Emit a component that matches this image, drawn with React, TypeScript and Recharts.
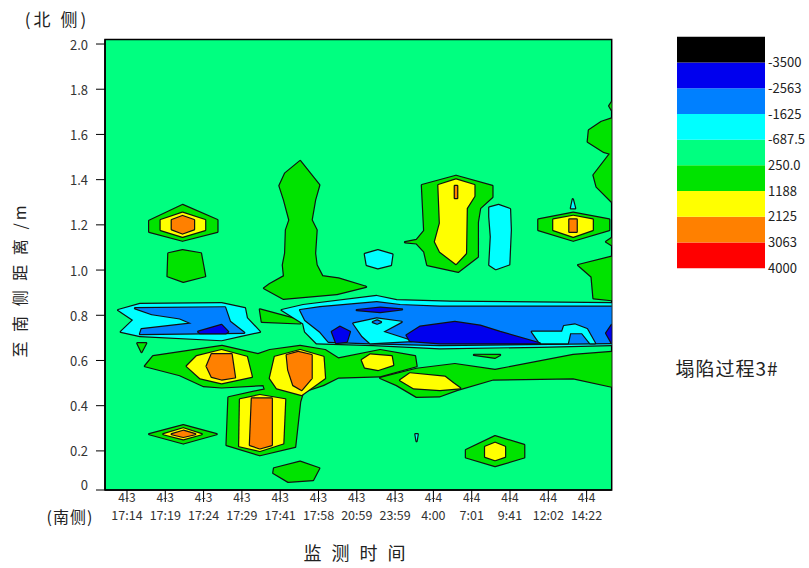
import { ScatterChart, Scatter, XAxis, YAxis, CartesianGrid, ReferenceArea, BarChart, Bar } from 'recharts';

const FONT = '"Noto Sans CJK SC", "Noto Sans", sans-serif';

// colour scale (low -> high)
const BLACK = '#000000';
const BLUE = '#0000EE';
const AZURE = '#0080FF';
const CYAN = '#00FFFF';
const MINT = '#00FF80';
const GREEN = '#00E300';
const YELLOW = '#FFFF00';
const ORANGE = '#FF8000';
const RED = '#FF0000';

// x axis: monitoring times (index positions)
const timeDates = ['4-3', '4-3', '4-3', '4-3', '4-3', '4-3', '4-3', '4-3', '4-4', '4-4', '4-4', '4-4', '4-4'];
const timeClock = ['17:14', '17:19', '17:24', '17:29', '17:41', '17:58', '20:59', '23:59', '4:00', '7:01', '9:41', '12:02', '14:22'];
const timeTicks = [0, 1, 2, 3, 4, 5, 6, 7, 8, 9, 10, 11, 12];

// y axis: distance to the south side (m)
const X_MIN = -0.574;
const X_MAX = 12.655;
const Y_MIN = 0.027;
const Y_MAX = 2.02;
const depthTicks = [Y_MIN, 0.2, 0.4, 0.6, 0.8, 1.0, 1.2, 1.4, 1.6, 1.8, 2.0];

// legend
const legendColors = [RED, ORANGE, YELLOW, GREEN, MINT, CYAN, AZURE, BLUE, BLACK];
const legendLabels = ['4000', '3063', '2125', '1188', '250.0', '-687.5', '-1625', '-2563', '-3500'];

// contour regions, [time index, distance m]
const greenA = [[0.58, 1.218], [1.45, 1.288], [2.36, 1.221], [2.36, 1.169], [1.45, 1.13], [0.58, 1.169]];
const yellowA = [[0.88, 1.221], [1.45, 1.254], [2.04, 1.221], [2.04, 1.177], [1.45, 1.147], [0.88, 1.177]];
const orangeA = [[1.17, 1.221], [1.45, 1.239], [1.75, 1.221], [1.75, 1.18], [1.45, 1.162], [1.17, 1.18]];
const greenB = [[1.08, 1.074], [1.45, 1.088], [1.93, 1.074], [2.04, 0.973], [1.47, 0.948], [1.06, 0.973]];
const greenPlume = [[4.52, 1.482], [5.02, 1.376], [4.91, 1.31], [4.82, 1.221], [4.95, 1.177], [4.91, 1.074], [4.95, 1.022], [5.1, 0.973], [5.52, 0.963], [6.24, 0.926], [5.48, 0.894], [4.08, 0.873], [3.58, 0.92], [3.73, 0.938], [4.1, 0.973], [4.07, 1.022], [4.13, 1.074], [4.15, 1.177], [4.24, 1.221], [4.1, 1.31], [3.98, 1.373], [4.13, 1.428]];
const greenE = [[7.7, 1.376], [8.59, 1.417], [9.54, 1.372], [9.54, 1.323], [9.22, 1.274], [9.16, 1.212], [9.16, 1.059], [8.65, 0.992], [7.84, 1.022], [7.76, 1.081], [7.56, 1.118], [7.26, 1.123], [7.56, 1.133], [7.76, 1.174]];
const yellowE = [[8.13, 1.376], [8.59, 1.401], [9.07, 1.376], [9.07, 1.327], [8.87, 1.273], [8.85, 1.074], [8.59, 1.027], [8.17, 1.081], [8.04, 1.125], [8.17, 1.207]];
const orangeE = [[8.56, 1.372], [8.62, 1.372], [8.62, 1.319], [8.56, 1.319]];
const cyanF = [[9.46, 1.277], [9.7, 1.288], [10.0, 1.27], [10.02, 1.177], [9.98, 1.025], [9.63, 1.004], [9.46, 1.022], [9.5, 1.147], [9.46, 1.236]];
const cyanD = [[6.21, 1.071], [6.55, 1.088], [6.93, 1.069], [6.89, 1.022], [6.55, 1.008], [6.26, 1.022]];
const greenG = [[10.74, 1.224], [11.65, 1.254], [12.59, 1.224], [12.59, 1.177], [11.65, 1.13], [10.74, 1.177]];
const yellowG = [[11.13, 1.224], [11.65, 1.24], [12.16, 1.224], [12.16, 1.177], [11.65, 1.147], [11.13, 1.177]];
const orangeG = [[11.55, 1.224], [11.74, 1.224], [11.74, 1.169], [11.55, 1.169]];
const cyanTick = [[11.59, 1.273], [11.64, 1.313], [11.7, 1.273]];
const greenEdgeTop = [[12.655, 1.671], [12.39, 1.656], [12.06, 1.619], [12.03, 1.568], [12.44, 1.523], [12.61, 1.515], [12.18, 1.42], [12.26, 1.369], [12.655, 1.302]];
const greenEdgeNick = [[12.655, 1.743], [12.59, 1.726], [12.655, 1.708]];
const greenEdgeMid = [[12.655, 1.142], [12.51, 1.125], [12.655, 1.11]];
const greenEdgeLow = [[12.655, 1.059], [11.78, 1.022], [12.13, 0.97], [12.18, 0.875], [12.655, 0.867]];
const greenWedge = [[3.47, 0.826], [4.56, 0.776], [4.52, 0.764], [3.52, 0.771]];
const greenSpeck = [[0.27, 0.676], [0.5, 0.676], [0.38, 0.638]];
const greenMid = [[0.47, 0.575], [0.68, 0.619], [2.48, 0.664], [3.42, 0.628], [3.73, 0.646], [4.52, 0.664], [5.17, 0.646], [5.52, 0.609], [6.61, 0.646], [7.52, 0.619], [7.56, 0.575], [6.61, 0.53], [5.52, 0.525], [5.12, 0.491], [4.6, 0.462], [4.52, 0.417], [4.39, 0.218], [3.47, 0.181], [2.6, 0.226], [2.65, 0.437], [3.6, 0.472], [3.56, 0.491], [2.47, 0.481], [1.99, 0.487], [1.38, 0.535]];
const greenLow = [[6.61, 0.523], [7.56, 0.563], [8.56, 0.584], [9.61, 0.558], [11.65, 0.624], [12.655, 0.638], [12.655, 0.484], [11.65, 0.521], [9.56, 0.516], [8.61, 0.469], [8.17, 0.442], [7.56, 0.439], [7.04, 0.491]];
const yellowLobe1 = [[1.56, 0.575], [1.82, 0.619], [2.47, 0.646], [3.13, 0.616], [3.26, 0.528], [2.47, 0.499], [1.91, 0.521]];
const orangeLobe1 = [[2.08, 0.575], [2.21, 0.628], [2.73, 0.628], [2.82, 0.525], [2.47, 0.516], [2.21, 0.528]];
const yellowLobe2 = [[3.73, 0.521], [3.86, 0.616], [4.52, 0.646], [5.13, 0.616], [5.17, 0.521], [4.56, 0.447], [3.91, 0.477]];
const orangeLobe2 = [[4.17, 0.624], [4.47, 0.638], [4.82, 0.624], [4.82, 0.521], [4.56, 0.469], [4.34, 0.491], [4.21, 0.558]];
const yellowNub = [[6.13, 0.602], [6.35, 0.627], [6.91, 0.619], [6.95, 0.58], [6.56, 0.558], [6.21, 0.569]];
const yellowColumn = [[2.95, 0.428], [3.47, 0.447], [4.13, 0.428], [4.08, 0.233], [3.47, 0.2], [2.93, 0.221]];
const orangeColumn = [[3.26, 0.432], [3.78, 0.432], [3.78, 0.226], [3.47, 0.211], [3.21, 0.226]];
const yellowLow = [[7.13, 0.513], [7.39, 0.543], [8.3, 0.528], [8.52, 0.499], [8.7, 0.477], [8.17, 0.469], [7.48, 0.477]];
const greenDiamond = [[0.58, 0.274], [1.47, 0.314], [2.34, 0.274], [1.47, 0.233]];
const yellowDiamond = [[0.95, 0.274], [1.47, 0.3], [1.95, 0.274], [1.47, 0.251]];
const orangeDiamond = [[1.17, 0.274], [1.47, 0.289], [1.78, 0.274], [1.47, 0.262]];
const greenFoot = [[3.84, 0.123], [4.52, 0.152], [5.02, 0.123], [4.86, 0.071], [4.21, 0.063], [3.82, 0.102]];
const greenHex7 = [[8.85, 0.204], [9.61, 0.265], [10.37, 0.226], [10.37, 0.171], [9.61, 0.133], [8.85, 0.171]];
const yellowHex7 = [[9.35, 0.218], [9.61, 0.236], [9.87, 0.218], [9.87, 0.174], [9.61, 0.159], [9.35, 0.174]];
const greenSliver = [[9.06, 0.625], [9.74, 0.624], [9.61, 0.612]];
const cyanSpeck = [[7.53, 0.274], [7.56, 0.243], [7.59, 0.274]];
const cyanWest = [[-0.23, 0.823], [0.34, 0.85], [2.47, 0.853], [3.08, 0.831], [3.13, 0.788], [3.47, 0.727], [2.95, 0.708], [2.47, 0.69], [0.34, 0.708], [-0.16, 0.727], [0.16, 0.779]];
const azureWest = [[0.21, 0.831], [2.56, 0.835], [2.69, 0.771], [3.06, 0.723], [0.34, 0.717], [0.38, 0.738], [1.69, 0.764], [1.38, 0.786], [0.65, 0.805]];
const blueWest = [[1.86, 0.727], [2.47, 0.757], [2.64, 0.727], [2.58, 0.72], [1.91, 0.721]];
const cyanEast = [[4.04, 0.823], [4.6, 0.845], [6.52, 0.885], [7.04, 0.867], [8.43, 0.86], [12.655, 0.853], [12.655, 0.668], [10.78, 0.661], [8.17, 0.654], [6.43, 0.668], [4.95, 0.676], [4.65, 0.727], [4.6, 0.764]];
const azureEast = [[4.52, 0.823], [5.04, 0.836], [6.52, 0.858], [7.13, 0.845], [8.17, 0.838], [12.655, 0.838], [12.655, 0.677], [8.17, 0.668], [6.35, 0.676], [5.26, 0.683], [5.04, 0.727], [4.65, 0.779]];
const cyanPocket = [[5.91, 0.764], [6.52, 0.786], [7.17, 0.771], [6.69, 0.727], [7.44, 0.686], [6.35, 0.676], [6.14, 0.708]];
const cyanNotch = [[10.57, 0.727], [11.36, 0.727], [11.41, 0.752], [11.7, 0.759], [12.01, 0.739], [12.22, 0.676], [12.09, 0.676], [11.88, 0.721], [11.57, 0.721], [11.51, 0.676], [10.78, 0.676]];
const azureDot = [[6.42, 0.77], [6.53, 0.777], [6.63, 0.77], [6.53, 0.763]];
const blueMid = [[5.35, 0.727], [5.56, 0.749], [5.82, 0.727], [5.74, 0.683], [5.46, 0.677]];
const blueLens = [[6.0, 0.823], [6.61, 0.833], [7.18, 0.826], [6.61, 0.814]];
const blueEast = [[7.3, 0.712], [7.65, 0.749], [8.56, 0.77], [9.22, 0.754], [9.74, 0.726], [10.78, 0.676], [8.17, 0.676], [7.39, 0.686]];
const blueEdge = [[12.655, 0.757], [12.51, 0.721], [12.655, 0.677]];

// drawing order: each group is stroked first, then filled so shared edges disappear
const contourGroups = [
  { fill: GREEN, shapes: [greenA, greenB, greenPlume, greenE, greenG, greenEdgeTop, greenEdgeNick, greenEdgeMid, greenEdgeLow, greenWedge, greenSpeck, greenMid, greenLow, greenDiamond, greenFoot, greenHex7, greenSliver] },
  { fill: YELLOW, shapes: [yellowA, yellowE, yellowG, yellowLobe1, yellowLobe2, yellowNub, yellowColumn, yellowLow, yellowDiamond, yellowHex7] },
  { fill: ORANGE, shapes: [orangeA, orangeE, orangeG, orangeLobe1, orangeLobe2, orangeColumn, orangeDiamond] },
  { fill: CYAN, shapes: [cyanD, cyanF, cyanTick, cyanWest, cyanEast, cyanSpeck] },
  { fill: AZURE, shapes: [azureWest, azureEast] },
  { fill: CYAN, shapes: [cyanPocket, cyanNotch] },
  { fill: AZURE, shapes: [azureDot] },
  { fill: BLUE, shapes: [blueWest, blueMid, blueLens, blueEast, blueEdge] },
];

const toPts = (poly: number[][]) => poly.map(([x, y]) => ({ x, y }));
const ptStr = (pts: any[]) => pts.map((q) => `${q.x},${q.y}`).join(' ');

const outline = (fill: string) => (p: any) => (
  <polygon points={ptStr(p.points)} fill={fill} stroke="#111" strokeWidth={2.4} strokeLinejoin="round" />
);
const body = (fill: string) => (p: any) => (
  <polygon points={ptStr(p.points)} fill={fill} stroke="none" />
);
const noDot = () => <g />;

const XTick = ({ x, y, payload }: any) => {
  const i = payload.value;
  return (
    <g>
      <text x={x} y={y - 6} textAnchor="middle" dominantBaseline="central" fontSize={12} fill="#333">{timeDates[i]}</text>
      <text x={x} y={y + 12} textAnchor="middle" dominantBaseline="central" fontSize={12.5} fill="#333">{timeClock[i]}</text>
    </g>
  );
};

const YTick = ({ x, y, payload }: any) => {
  const v = payload.value;
  const isZero = v === Y_MIN;
  return (
    <text x={x} y={isZero ? y - 6 : y} textAnchor="end" dominantBaseline="central" fontSize={13} fill="#333">
      {isZero ? '0' : v.toFixed(1)}
    </text>
  );
};

const legendRow = [Object.fromEntries([['k', 'c'], ...legendColors.map((_, i) => [`b${i}`, 1])])];

const txt = (left: number, top: number, size: number, extra: any = {}) => ({
  position: 'absolute' as const,
  left,
  top,
  fontSize: size,
  lineHeight: 1,
  whiteSpace: 'pre' as const,
  color: '#222',
  transform: 'translate(-50%, -50%)',
  ...extra,
});

export default function App() {
  const series = contourGroups.flatMap((g, gi) => [
    ...g.shapes.map((s, si) => (
      <Scatter key={`o${gi}-${si}`} data={toPts(s)} line={outline(g.fill)} shape={noDot} isAnimationActive={false} />
    )),
    ...g.shapes.map((s, si) => (
      <Scatter key={`f${gi}-${si}`} data={toPts(s)} line={body(g.fill)} shape={noDot} isAnimationActive={false} />
    )),
  ]);

  return (
    <div style={{ position: 'absolute', left: 0, top: 0, width: 809, height: 568, overflow: 'hidden', background: '#fff', fontFamily: FONT }}>
      <ScatterChart width={809} height={568} margin={{ top: 39.5, right: 197.3, bottom: 38, left: 45 }}>
        <CartesianGrid horizontal={false} vertical={false} fill={MINT} fillOpacity={1} />
        <XAxis
          type="number"
          dataKey="x"
          domain={[X_MIN, X_MAX]}
          ticks={timeTicks}
          allowDataOverflow
          height={40}
          tickSize={12}
          tickMargin={0}
          tick={<XTick />}
          axisLine={{ stroke: '#000', strokeWidth: 1.5 }}
          tickLine={{ stroke: '#000' }}
        />
        <YAxis
          type="number"
          dataKey="y"
          domain={[Y_MIN, Y_MAX]}
          ticks={depthTicks}
          allowDataOverflow
          width={60}
          tickSize={9}
          tickMargin={8}
          tick={<YTick />}
          axisLine={{ stroke: '#000', strokeWidth: 1.5 }}
          tickLine={{ stroke: '#000' }}
        />
        {series}
        <ReferenceArea x1={X_MIN} x2={X_MAX} y1={Y_MIN} y2={Y_MAX} fill="none" stroke="#000" strokeWidth={1.5} />
      </ScatterChart>

      <div style={{ position: 'absolute', left: 677, top: 0 }}>
        <BarChart width={133} height={290} data={legendRow} margin={{ top: 36.7, right: 0, bottom: 21.7, left: 0 }} barCategoryGap={0}>
          <XAxis dataKey="k" hide />
          <YAxis
            type="number"
            orientation="right"
            domain={[0, 9]}
            ticks={[0, 1, 2, 3, 4, 5, 6, 7, 8]}
            tickFormatter={(v: number) => legendLabels[v]}
            axisLine={false}
            tickLine={false}
            tickSize={3}
            tickMargin={0}
            width={45}
            tick={{ fontSize: 13, fill: '#222' }}
          />
          {legendColors.map((c, i) => (
            <Bar key={c} dataKey={`b${i}`} stackId="s" fill={c} isAnimationActive={false} />
          ))}
        </BarChart>
      </div>

      <div style={txt(57, 18, 17, { letterSpacing: 3 })}>(北 侧)</div>
      <div style={txt(70, 516, 16, { letterSpacing: 1 })}>(南侧)</div>
      <div style={txt(356, 552, 18, { letterSpacing: 3 })}>监 测 时 间</div>
      <div style={txt(727, 367, 19, { letterSpacing: 1 })}>塌陷过程3#</div>
      <div style={txt(19, 280, 16, { letterSpacing: 3, transform: 'translate(-50%, -50%) rotate(-90deg)' })}>至 南 侧 距 离 /m</div>
    </div>
  );
}
